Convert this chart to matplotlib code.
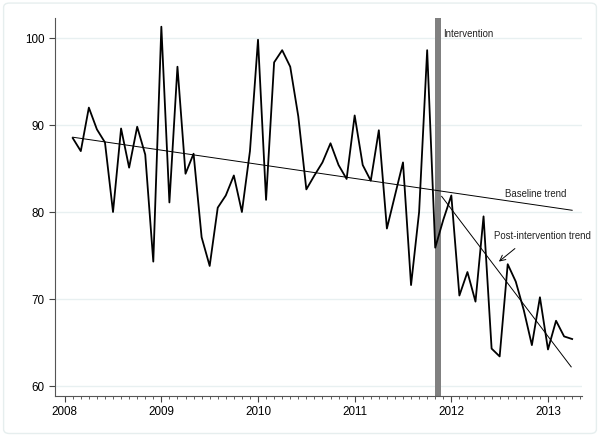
import numpy as np
import matplotlib
matplotlib.use("Agg")
import matplotlib.pyplot as plt
from matplotlib.patches import FancyBboxPatch

plt.rcParams['font.family'] = ['Liberation Sans', 'DejaVu Sans']

# monthly values, Feb 2008 .. Apr 2013
values = [88.5, 87.0, 92.0, 89.5, 88.0, 80.0, 89.6, 85.1, 89.8, 86.6, 74.3,
          101.3, 81.1, 96.7, 84.4, 86.7, 77.1, 73.8, 80.5, 81.9, 84.2, 80.0,
          87.0, 99.8, 81.4, 97.2, 98.6, 96.7, 91.0, 82.6, 84.2, 85.7, 87.9,
          85.4, 83.8, 91.1, 85.4, 83.6, 89.4, 78.1, 81.9, 85.7, 71.6, 80.0,
          98.6, 75.9, 79.1, 81.9, 70.4, 73.1, 69.7, 79.5, 64.3, 63.4, 74.0,
          72.0, 68.7, 64.7, 70.2, 64.2, 67.5, 65.7, 65.4]
t = 2008 + (np.arange(len(values)) + 1) / 12.0

baseline_x = [2008.083, 2013.25]
baseline_y = [88.6, 80.2]
post_x = [2011.90, 2013.24]
post_y = [81.8, 62.2]
intervention = 2011.86

fig = plt.figure(figsize=(6.0, 4.37), dpi=100)
ax = fig.add_axes([0.0917, 0.0938, 0.878, 0.865])

# outer frame like stata graph region
fig.patches.append(FancyBboxPatch((0.006, 0.008), 0.988, 0.985, boxstyle="round,pad=0,rounding_size=0.01",
                                  transform=fig.transFigure, fill=False, edgecolor="#e6eeee", lw=1.0))

ax.set_xlim(2007.9, 2013.35)
ax.set_ylim(58.85, 102.3)

for yv in [60, 70, 80, 90, 100]:
    ax.axhline(yv, color="#e8f0f1", lw=1.0, zorder=0)

ax.axvspan(intervention - 0.03, intervention + 0.03, color="#808080", lw=0, zorder=1)

ax.plot(t, values, color="black", lw=1.3, zorder=3)
ax.plot(baseline_x, baseline_y, color="black", lw=0.7, zorder=2)
ax.plot(post_x, post_y, color="black", lw=0.7, zorder=2)

ax.text(intervention + 0.05, 100.5, "Intervention", fontsize=6.9, color="#222222", va="center")
ax.text(2012.56, 82.1, "Baseline trend", fontsize=6.9, color="#222222", va="center")
ax.text(2012.44, 77.2, "Post-intervention trend", fontsize=6.9, color="#222222", va="center")
ax.annotate("", xy=(2012.47, 74.1), xytext=(2012.68, 76.0),
            arrowprops=dict(arrowstyle="->", lw=0.7, color="black"))

ax.set_xticks([2008, 2009, 2010, 2011, 2012, 2013])
ax.set_xticks(np.arange(2008, 2013.34, 1 / 12.0), minor=True)
ax.set_yticks([60, 70, 80, 90, 100])
ax.tick_params(axis="both", which="major", labelsize=8.4, length=4, width=0.8, color="#444444")
ax.tick_params(axis="x", which="minor", length=2, width=0.6, color="#444444")

for s in ["top", "right"]:
    ax.spines[s].set_visible(False)
for s in ["left", "bottom"]:
    ax.spines[s].set_color("#555555")
    ax.spines[s].set_linewidth(0.8)

fig.savefig("out.png", dpi=100)
